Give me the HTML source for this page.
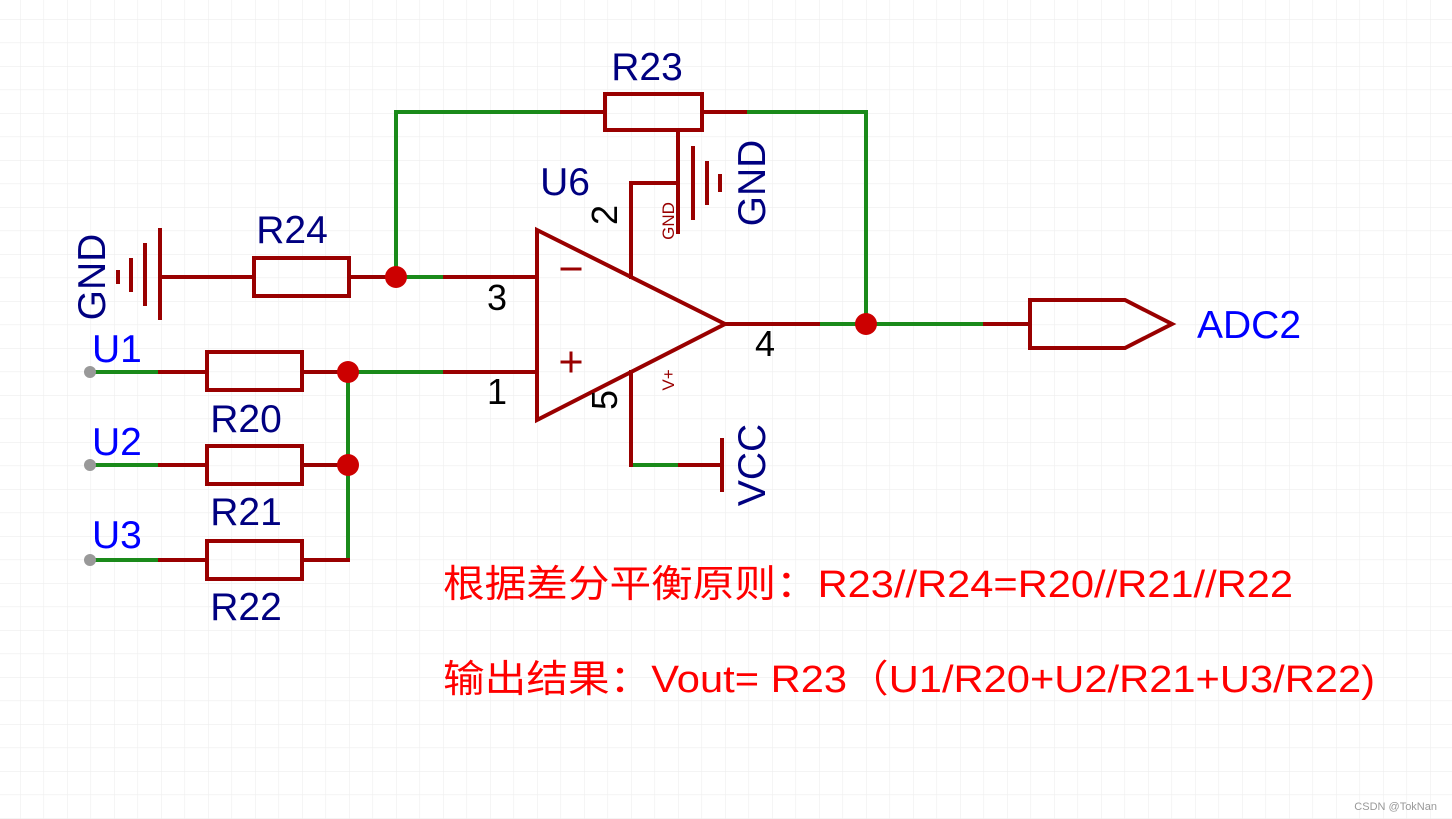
<!DOCTYPE html>
<html><head><meta charset="utf-8"><style>
html,body{margin:0;padding:0;background:#fff}
svg{display:block}
text{font-family:"Liberation Sans","Noto Sans CJK SC",sans-serif}
</style></head><body>
<svg width="1452" height="819" viewBox="0 0 1452 819" xmlns="http://www.w3.org/2000/svg">
<defs>
<pattern id="g" x="20" y="19" width="23.5" height="23.5" patternUnits="userSpaceOnUse">
<path d="M0 0V23.5M0 0H23.5" stroke="#eeeeee" stroke-width="1.2" fill="none"/>
</pattern>
</defs>
<rect width="1452" height="819" fill="url(#g)"/>
<g fill="none" stroke-width="4" stroke-linecap="square">
<!-- green wires -->
<g stroke="#1a8a1a">
<path d="M396 277V112H562M745 112H866V324M818 324H985M90 372H160M90 465H160M90 560H160M348 372H445M348 372V560M396 277H445M631 465H680"/>
</g>
<g stroke="#990000">
<!-- R23 -->
<path d="M562 112H605M702 112H745"/>
<rect x="605" y="94" width="97" height="36"/>
<!-- pin2 + GND -->
<path d="M678 130V232M693 148V218M707 163V203M720 176V190M631 277V183H678"/>
<!-- op amp -->
<path d="M537 230L725 324L537 420Z"/>
<path d="M445 277H537M445 372H537M725 324H818M985 324H1030"/>
<path d="M562 269H580M562 362H580M571 353V371" stroke-width="3"/>
<path d="M631 372V465M680 465H722M722 440V490"/>
<!-- ADC2 -->
<path d="M1030 300H1125L1172 324L1125 348H1030Z"/>
<!-- R24 + GND -->
<path d="M160 230V318M145 245V304M131 260V290M118 272V282M160 277H254M349 277H396"/>
<rect x="254" y="258" width="95" height="38"/>
<!-- R20 R21 R22 -->
<path d="M160 372H207M302 372H348M160 465H207M302 465H348M160 560H207M302 560H348"/>
<rect x="207" y="352" width="95" height="38"/>
<rect x="207" y="446" width="95" height="38"/>
<rect x="207" y="541" width="95" height="38"/>
</g>
</g>
<g fill="#cc0000">
<circle cx="396" cy="277" r="11"/><circle cx="866" cy="324" r="11"/>
<circle cx="348" cy="372" r="11"/><circle cx="348" cy="465" r="11"/>
</g>
<g fill="#999">
<circle cx="90" cy="372" r="6"/><circle cx="90" cy="465" r="6"/><circle cx="90" cy="560" r="6"/>
</g>
<g fill="#000080" font-size="39" text-anchor="middle">
<text x="647" y="80">R23</text>
<text x="565" y="195">U6</text>
<text x="292" y="243">R24</text>
<text x="246" y="432">R20</text>
<text x="246" y="525">R21</text>
<text x="246" y="620">R22</text>
<text transform="translate(105 277) rotate(-90)">GND</text>
<text transform="translate(765 183) rotate(-90)">GND</text>
<text transform="translate(765 465) rotate(-90)">VCC</text>
</g>
<g fill="#0000ff" font-size="39">
<text x="92" y="362">U1</text>
<text x="92" y="455">U2</text>
<text x="92" y="548">U3</text>
<text x="1197" y="338">ADC2</text>
</g>
<g fill="#000" font-size="36" text-anchor="middle">
<text x="497" y="310">3</text>
<text x="497" y="404">1</text>
<text x="765" y="356">4</text>
<text transform="translate(617 215) rotate(-90)">2</text>
<text transform="translate(617 400) rotate(-90)">5</text>
</g>
<g fill="#990000" font-size="17" text-anchor="middle">
<text transform="translate(674 221) rotate(-90)">GND</text>
<text transform="translate(674 380) rotate(-90)">V+</text>
</g>
<g fill="#ff0000" font-size="38">
<text x="443" y="597" textLength="850" lengthAdjust="spacingAndGlyphs">根据差分平衡原则：R23//R24=R20//R21//R22</text>
<text x="443" y="692" textLength="932" lengthAdjust="spacingAndGlyphs">输出结果：Vout= R23（U1/R20+U2/R21+U3/R22)</text>
</g>
<text x="1437" y="810" font-size="11" fill="#999" text-anchor="end">CSDN @TokNan</text>
</svg>
</body></html>
